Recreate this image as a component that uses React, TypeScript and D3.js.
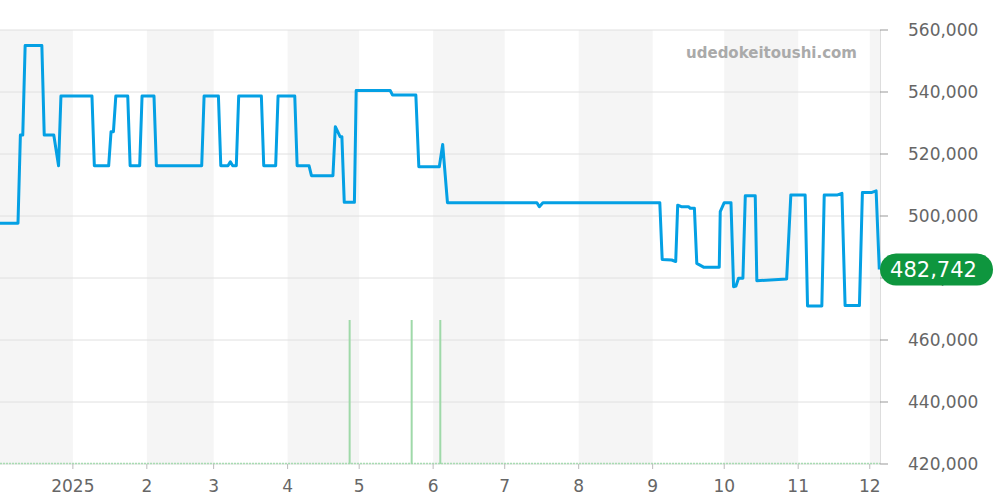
import React from "react";
import * as d3 from "d3";

const priceDates: string[] = [
  "2024-12-01T11", "2024-12-09T00", "2024-12-10T00", "2024-12-11T00", "2024-12-12T00",
  "2024-12-19T00", "2024-12-20T00", "2024-12-24T00", "2024-12-26T00", "2024-12-27T00",
  "2025-01-09T00", "2025-01-10T00", "2025-01-16T00", "2025-01-17T00", "2025-01-18T00",
  "2025-01-19T00", "2025-01-24T00", "2025-01-25T00", "2025-01-29T00", "2025-01-30T00",
  "2025-02-04T00", "2025-02-05T00", "2025-02-24T00", "2025-02-25T00", "2025-03-03T00",
  "2025-03-04T00", "2025-03-07T00", "2025-03-08T00", "2025-03-09T00", "2025-03-10T12",
  "2025-03-11T12", "2025-03-21T00", "2025-03-22T00", "2025-03-27T00", "2025-03-28T00",
  "2025-04-04T00", "2025-04-05T00", "2025-04-10T00", "2025-04-11T00", "2025-04-20T00",
  "2025-04-21T00", "2025-04-23T00", "2025-04-23T18", "2025-04-24T18", "2025-04-29T00",
  "2025-04-29T18", "2025-05-14T00", "2025-05-15T00", "2025-05-24T18", "2025-05-26T00",
  "2025-06-03T14", "2025-06-05T00", "2025-06-07T00", "2025-07-14T12", "2025-07-15T12",
  "2025-07-17T00", "2025-09-04T00", "2025-09-05T00", "2025-09-09T00", "2025-09-10T16",
  "2025-09-11T12", "2025-09-13T00", "2025-09-16T00", "2025-09-16T18", "2025-09-18T12",
  "2025-09-19T12", "2025-09-22T08", "2025-09-28T22", "2025-09-29T08", "2025-10-01T00",
  "2025-10-03T20", "2025-10-04T22", "2025-10-05T22", "2025-10-07T00", "2025-10-08T20",
  "2025-10-09T20", "2025-10-14T00", "2025-10-14T16", "2025-10-27T04", "2025-10-28T22",
  "2025-11-03T22", "2025-11-04T22", "2025-11-10T22", "2025-11-11T22", "2025-11-17T12",
  "2025-11-19T08", "2025-11-20T16", "2025-11-26T16", "2025-11-27T22", "2025-12-01T22",
  "2025-12-03T16", "2025-12-05T00",
];

const priceValues: number[] = [
  497700, 497700, 526100, 526100, 555000,
  555000, 526100, 526100, 516200, 538700,
  538700, 516200, 516200, 527200, 527200,
  538700, 538700, 516200, 516200, 538700,
  538700, 516200, 516200, 538700, 538700,
  516200, 516200, 517500, 516200, 516200,
  538700, 538700, 516200, 516200, 538700,
  538700, 516200, 516200, 513000, 513000,
  528800, 525600, 525600, 504400, 504400,
  540500, 540500, 539000, 539000, 515900,
  515900, 523100, 504300, 504300, 503000,
  504300, 504300, 486000, 485800, 485300,
  503500, 503000, 503000, 502500, 502500,
  484700, 483500, 483500, 501400, 504300,
  504300, 477200, 477400, 479900, 479900,
  506500, 506500, 479100, 479700, 506800,
  506800, 471000, 471000, 506800, 506800,
  507300, 471100, 471100, 507600, 507600,
  508100, 482742,
];

const volumeDates: string[] = ["2025-04-27T00", "2025-05-23T00", "2025-06-04T00"];
const volumeValues: number[] = [1, 1, 1];

const yTicks: number[] = [420000, 440000, 460000, 480000, 500000, 520000, 540000, 560000];
const domainStart = "2024-12-01T11";
const domainEnd = "2025-12-05T07";
const lastLabel = "482,742";
const watermark = "udedokeitoushi.com";

const parse = d3.timeParse("%Y-%m-%dT%H");

export default function App() {
  const W = 1000, H = 500;
  const left = 0, right = 880, top = 30, bottom = 464;
  const font = "DejaVu Sans, sans-serif";

  const x = d3.scaleTime().domain([parse(domainStart)!, parse(domainEnd)!]).range([left, right]);
  const y = d3.scaleLinear().domain([420000, 560000]).range([bottom, top]);
  const yv = d3.scaleLinear().domain([0, 1]).range([bottom, 320]);

  const pts = priceDates.map((d, i) => ({ t: parse(d)!, v: priceValues[i] }));
  const line = d3.line<{ t: Date; v: number }>().x(d => x(d.t)).y(d => y(d.v));

  const [d0, d1] = x.domain();
  const months = d3.timeMonth.range(d3.timeMonth.floor(d0), d1);
  const monthTicks = d3.timeMonth.range(d3.timeMonth.ceil(d0), d1);

  const last = pts[pts.length - 1];
  const ly = y(last.v);

  return (
    <svg width={W} height={H} style={{ position: "absolute", left: 0, top: 0, background: "#fff" }}>
      {/* month bands */}
      {months.map((m, i) => {
        if (m.getMonth() % 2 === 0) return null;
        const x0 = Math.max(left, x(m));
        const x1 = Math.min(right, x(d3.timeMonth.offset(m, 1)));
        return <rect key={i} x={x0} y={top} width={x1 - x0} height={bottom - top} fill="#f5f5f5" />;
      })}
      {/* grid */}
      {yTicks.map(t => (
        <line key={t} x1={left} x2={right} y1={y(t)} y2={y(t)} stroke="#e0e0e0" strokeWidth={1} />
      ))}
      <line x1={right + 0.5} x2={right + 0.5} y1={top} y2={bottom} stroke="#ddd" />
      {/* watermark */}
      <text x={857} y={58} textAnchor="end" fontFamily={font} fontWeight="bold" fontSize={15} fill="#aaa">
        {watermark}
      </text>
      {/* volume baseline */}
      <line x1={left} x2={right} y1={bottom - 0.5} y2={bottom - 0.5} stroke="#a8dcb2" strokeWidth={1.5} strokeDasharray="2,1" />
      {/* volume bars */}
      {volumeDates.map((d, i) => (
        <rect key={d} x={x(parse(d)!) - 1} y={yv(volumeValues[i])} width={2} height={bottom - yv(volumeValues[i])} fill="#9fd9a9" />
      ))}
      {/* price line */}
      <path d={line(pts) || ""} fill="none" stroke="#04a0e4" strokeWidth={3} strokeLinejoin="round" />
      {/* y axis */}
      {yTicks.map(t => (
        <g key={t}>
          <line x1={right} x2={right + 8} y1={y(t)} y2={y(t)} stroke="#999" />
          <text x={908} y={y(t)} dy="0.36em" fontFamily={font} fontSize={17} fill="#666">
            {d3.format(",")(t)}
          </text>
        </g>
      ))}
      {/* x axis */}
      {monthTicks.map((m, i) => (
        <g key={i}>
          <line x1={x(m)} x2={x(m)} y1={bottom} y2={bottom + 5} stroke="#bbb" />
          <text x={x(m)} y={492} textAnchor="middle" fontFamily={font} fontSize={17} fill="#666">
            {m.getMonth() === 0 ? String(m.getFullYear()) : String(m.getMonth() + 1)}
          </text>
        </g>
      ))}
      {/* last price label */}
      <rect x={880} y={ly - 16} width={113} height={32} rx={16} ry={16} fill="#0e963e" />
      <text x={933.5} y={ly} dy="0.36em" textAnchor="middle" fontFamily={font} fontSize={21} fill="#fff">
        {lastLabel}
      </text>
    </svg>
  );
}
